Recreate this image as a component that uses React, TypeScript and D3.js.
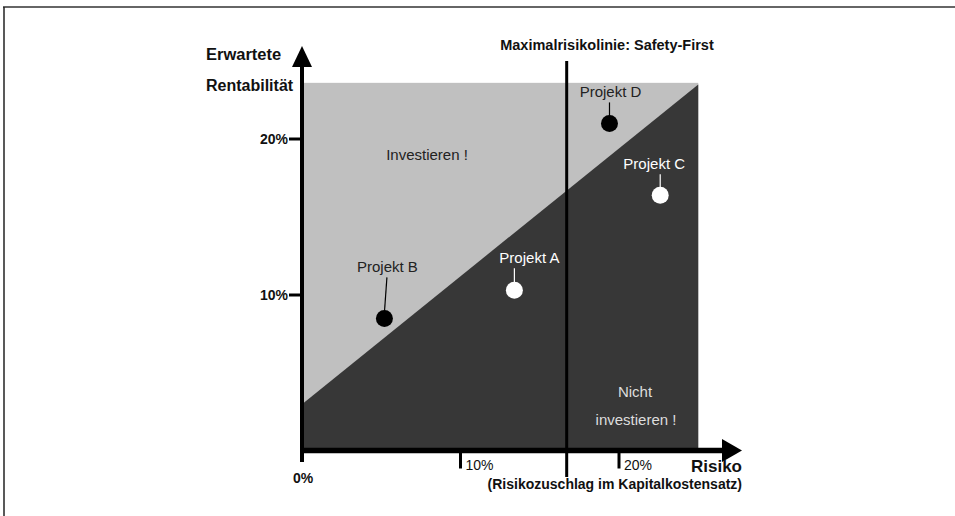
import React from "react";
import * as d3 from "d3";

// ---- data ----
const projectNames = ["Projekt A", "Projekt B", "Projekt C", "Projekt D"];
const projectRisk = [13.4, 5.2, 22.6, 19.4]; // % risk premium
const projectReturn = [10.3, 8.5, 16.4, 21.0]; // % expected return
const xTickValues = [10, 20];
const yTickValues = [10, 20];
const riskMax = 25;
const returnMax = 23.6;
const boundaryRisk = [0, 25];
const boundaryReturn = [3.0, 23.5];
const maxRiskLine = 16.7;

// ---- layout (not data) ----
const labelOffsets: Record<string, [number, number]> = {
  "Projekt A": [15, -27],
  "Projekt B": [3, -46],
  "Projekt C": [-6, -26],
  "Projekt D": [1, -26],
};

const W = 955;
const H = 516;
const FONT = "'Liberation Sans', Arial, Helvetica, sans-serif";
const LIGHT = "#c0c0c0";
const DARK = "#373737";

export default function App() {
  const x = d3.scaleLinear().domain([0, 20]).range([302, 619]);
  const y = d3.scaleLinear().domain([0, 20]).range([451, 139]);

  const x0 = x(0);
  const y0 = y(0);
  const boundaryY = (r: number) =>
    boundaryReturn[0] +
    ((boundaryReturn[1] - boundaryReturn[0]) * (r - boundaryRisk[0])) /
      (boundaryRisk[1] - boundaryRisk[0]);
  const isAbove = (i: number) => projectReturn[i] > boundaryY(projectRisk[i]);

  const darkPoly = d3.line()([
    [x(boundaryRisk[0]), y0],
    [x(boundaryRisk[0]), y(boundaryReturn[0])],
    [x(boundaryRisk[1]), y(boundaryReturn[1])],
    [x(boundaryRisk[1]), y0],
  ] as [number, number][]) as string;

  const axisY = y0 - 0.5;
  const arrowX = d3.line()([
    [722, axisY - 11.5],
    [742, axisY],
    [722, axisY + 11.5],
  ] as [number, number][]) + "Z";
  const arrowY = d3.line()([
    [x0 - 10, 67],
    [x0, 46],
    [x0 + 10, 67],
  ] as [number, number][]) + "Z";

  return (
    <svg
      width={W}
      height={H}
      style={{ position: "absolute", left: 0, top: 0, background: "#fff" }}
      fontFamily={FONT}
    >
      {/* frame */}
      <line x1={3} x2={W} y1={7} y2={7} stroke="#666" strokeWidth={2} />
      <line x1={4} x2={4} y1={7} y2={H} stroke="#222" strokeWidth={1.5} />

      {/* regions */}
      <rect
        x={x0}
        y={y(returnMax)}
        width={x(riskMax) - x0}
        height={y0 - y(returnMax)}
        fill={LIGHT}
      />
      <path d={darkPoly} fill={DARK} />

      {/* region labels */}
      <text x={427} y={160} fontSize={15} textAnchor="middle" fill="#222">
        Investieren !
      </text>
      <text x={635} y={397} fontSize={15} textAnchor="middle" fill="#ddd">
        Nicht
      </text>
      <text x={636} y={425} fontSize={15} textAnchor="middle" fill="#ddd">
        investieren !
      </text>

      {/* max risk line */}
      <line
        x1={x(maxRiskLine)}
        x2={x(maxRiskLine)}
        y1={y(25)}
        y2={y0 + 26}
        stroke="#000"
        strokeWidth={3}
      />
      <text
        x={607}
        y={50}
        fontSize={14.5}
        fontWeight="bold"
        textAnchor="middle"
        fill="#111"
      >
        Maximalrisikolinie: Safety-First
      </text>

      {/* projects */}
      {projectNames.map((name, i) => {
        const cx = x(projectRisk[i]);
        const cy = y(projectReturn[i]);
        const above = isAbove(i);
        const col = above ? "#000" : "#fff";
        const txtCol = above ? "#222" : "#fff";
        const [dx, dy] = labelOffsets[name];
        const ly = cy + dy;
        return (
          <g key={name}>
            <line
              x1={cx + (dx > 10 ? 0 : dx > 2 ? 2.5 : 0)}
              x2={cx}
              y1={ly + 5}
              y2={cy - 6}
              stroke={col}
              strokeWidth={1.2}
            />
            <circle cx={cx} cy={cy} r={8.5} fill={col} />
            <text
              x={cx + dx}
              y={ly}
              fontSize={15}
              textAnchor="middle"
              fill={txtCol}
            >
              {name}
            </text>
          </g>
        );
      })}

      {/* y axis */}
      <line x1={x0} x2={x0} y1={65} y2={y0 + 11} stroke="#000" strokeWidth={4} />
      <path d={arrowY} fill="#000" />
      {yTickValues.map((v) => (
        <g key={"yt" + v}>
          <line
            x1={x0 - 13}
            x2={x0}
            y1={y(v)}
            y2={y(v)}
            stroke="#000"
            strokeWidth={3}
          />
          <text
            x={x0 - 14}
            y={y(v) + 5}
            fontSize={14}
            fontWeight="bold"
            textAnchor="end"
            fill="#111"
          >
            {v}%
          </text>
        </g>
      ))}
      <text x={206} y={60} fontSize={16.5} fontWeight="bold" fill="#111">
        Erwartete
      </text>
      <text x={206} y={91} fontSize={16} fontWeight="bold" fill="#111">
        Rentabilität
      </text>

      {/* x axis */}
      <line x1={x0 - 2} x2={724} y1={axisY} y2={axisY} stroke="#000" strokeWidth={5.5} />
      <path d={arrowX} fill="#000" />
      {xTickValues.map((v) => (
        <g key={"xt" + v}>
          <line
            x1={x(v)}
            x2={x(v)}
            y1={axisY}
            y2={axisY + 18}
            stroke="#000"
            strokeWidth={3}
          />
          <text x={x(v) + 5} y={470} fontSize={14} fill="#111">
            {v}%
          </text>
        </g>
      ))}
      <text
        x={x0 + 1}
        y={483}
        fontSize={14}
        fontWeight="bold"
        textAnchor="middle"
        fill="#111"
      >
        0%
      </text>
      <text x={742} y={472} fontSize={17} fontWeight="bold" textAnchor="end" fill="#111">
        Risiko
      </text>
      <text x={742} y={489} fontSize={14} fontWeight="bold" textAnchor="end" fill="#111">
        (Risikozuschlag im Kapitalkostensatz)
      </text>
    </svg>
  );
}
